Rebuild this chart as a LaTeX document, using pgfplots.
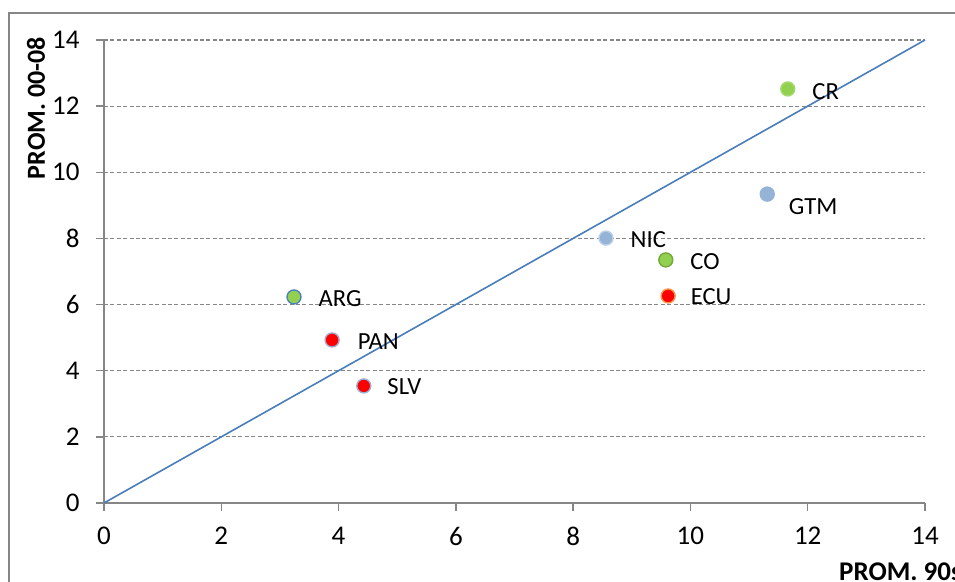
\documentclass[border=0pt]{standalone}
\usepackage{pgfplots}
\pgfplotsset{compat=1.18}
\usepackage{fontspec}
\setmainfont{Carlito}
\definecolor{axgray}{HTML}{868686}
\definecolor{linblue}{HTML}{4A7EBB}
\definecolor{cgreen}{HTML}{92D050}
\definecolor{cgreenlt}{HTML}{A6DA6E}
\definecolor{cgreendk}{HTML}{77A63A}
\definecolor{lblue}{HTML}{95B3D7}
\definecolor{lbluelt}{HTML}{B9CFE6}
\definecolor{dblue}{HTML}{4F81BD}
\definecolor{corange}{HTML}{F79646}
\definecolor{cgrayblue}{HTML}{A5A5C8}
\begin{document}
\fontsize{12}{14}\selectfont
\begin{tikzpicture}
\path[use as bounding box] (-52pt,-39.5pt) rectangle (425.5pt,251.5pt);
\draw[axgray, line width=0.8pt] (-47.5pt,245pt) rectangle (460pt,-70pt);
\begin{axis}[
  at={(0,0)}, anchor=south west, scale only axis,
  width=410.5pt, height=231.5pt,
  xmin=0, xmax=14, ymin=0, ymax=14,
  xtick={0,2,...,14}, ytick={0,2,...,14},
  axis lines=left, axis line style={-, axgray, line width=0.7pt},
  tick align=outside, major tick length=4pt,
  tick style={axgray, line width=0.7pt},
  ymajorgrids, grid style={axgray, dash pattern=on 2pt off 1.2pt, line width=0.6pt},
  /pgf/number format/assume math mode=true,
  ticklabel style={font=\fontsize{13.5}{15}\selectfont},
  yticklabel style={xshift=-4pt},
  xticklabel style={yshift=-4pt},
  xlabel={\fontsize{13.5}{15}\selectfont\textbf{PROM. 90s}},
  xlabel style={at={(rel axis cs:0.895,-0.1274)}, anchor=north west, inner sep=0pt},
  ylabel={\fontsize{13}{15}\selectfont\textbf{PROM. 00-08}},
  ylabel style={at={(rel axis cs:-0.0828,0.853)}, anchor=center},
  clip=false,
  every node near coord/.append style={anchor=west, font=\fontsize{12.3}{14}\selectfont, text=black},
]
\addplot[color=linblue, line width=0.8pt] coordinates {(0,0) (14,14)};
\addplot[only marks, mark=*, mark size=3.5pt, mark options={fill=cgreen, draw=cgreenlt, line width=0.7pt},
  nodes near coords={CR}, nodes near coords style={xshift=8pt, yshift=-1.5pt}] coordinates {(11.66,12.52)};
\addplot[only marks, mark=*, mark size=3.5pt, mark options={fill=lblue, draw=lblue, line width=0.7pt},
  nodes near coords={GTM}, nodes near coords style={xshift=6.5pt, yshift=-6pt}] coordinates {(11.31,9.34)};
\addplot[only marks, mark=*, mark size=3.5pt, mark options={fill=lblue, draw=lbluelt, line width=0.7pt},
  nodes near coords={NIC}, nodes near coords style={xshift=8pt, yshift=-1pt}] coordinates {(8.56,8.01)};
\addplot[only marks, mark=*, mark size=3.5pt, mark options={fill=cgreen, draw=cgreendk, line width=0.7pt},
  nodes near coords={CO}, nodes near coords style={xshift=8pt, yshift=-1pt}] coordinates {(9.58,7.35)};
\addplot[only marks, mark=*, mark size=3.5pt, mark options={fill=red, draw=corange, line width=0.7pt},
  nodes near coords={ECU}, nodes near coords style={xshift=7pt, yshift=-0.5pt}] coordinates {(9.62,6.26)};
\addplot[only marks, mark=*, mark size=3.5pt, mark options={fill=cgreen, draw=dblue, line width=0.7pt},
  nodes near coords={ARG}, nodes near coords style={xshift=8pt, yshift=-1pt}] coordinates {(3.24,6.23)};
\addplot[only marks, mark=*, mark size=3.5pt, mark options={fill=red, draw=cgrayblue, line width=0.7pt},
  nodes near coords={PAN}, nodes near coords style={xshift=8.5pt, yshift=-1pt}] coordinates {(3.89,4.93)};
\addplot[only marks, mark=*, mark size=3.5pt, mark options={fill=red, draw=lblue, line width=0.7pt},
  nodes near coords={SLV}, nodes near coords style={xshift=7.5pt, yshift=-0.5pt}] coordinates {(4.43,3.54)};
\end{axis}
\end{tikzpicture}
\end{document}
